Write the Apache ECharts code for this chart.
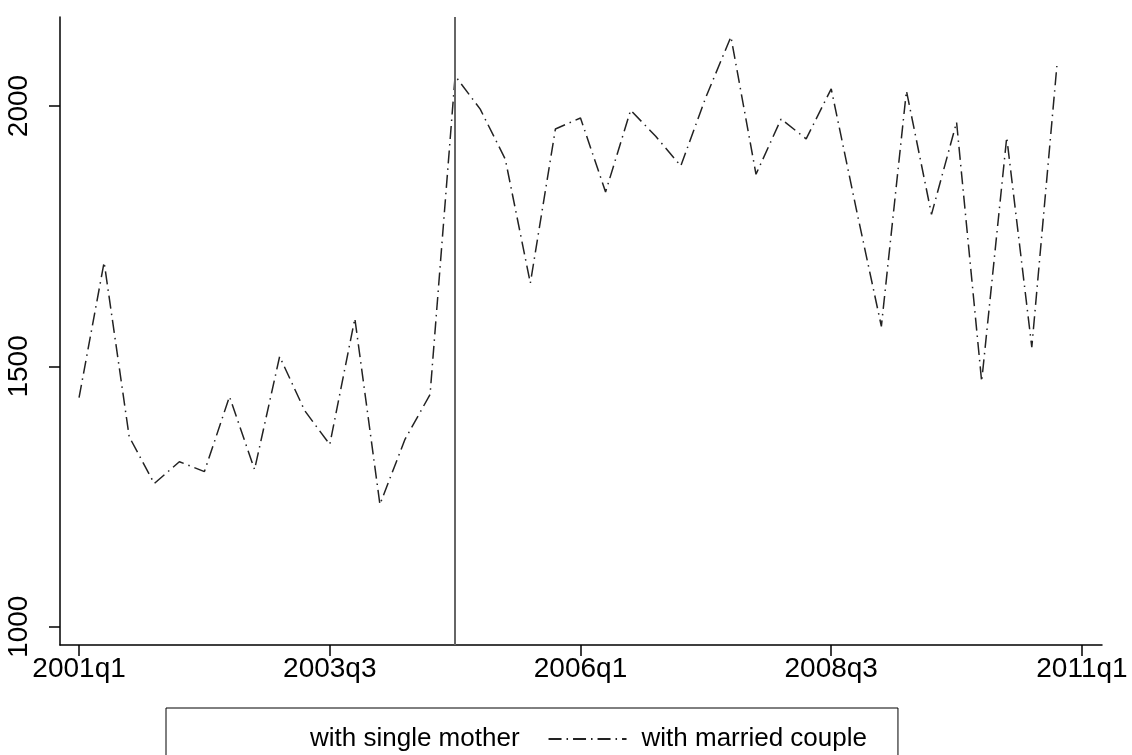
<!DOCTYPE html>
<html>
<head>
<meta charset="utf-8">
<script src="https://cdn.jsdelivr.net/npm/echarts@6/dist/echarts.min.js"></script>
<style>
html,body{margin:0;padding:0;background:#fff;}
#chart{width:1132px;height:755px;}
</style>
</head>
<body>
<div id="chart"></div>
<script>
// Quarter index 0 = 2001q1
const tickPositions = [0, 10, 20, 30, 40];
const tickLabels = ['2001q1', '2003q3', '2006q1', '2008q3', '2011q1'];
const yTicks = [1000, 1500, 2000];
const marriedCouple = [
  1440, 1700, 1365, 1275, 1317, 1298, 1442, 1302, 1519, 1415,
  1350, 1592, 1235, 1360, 1446, 2058, 1994, 1898, 1660, 1956,
  1977, 1835, 1992, 1942, 1885, 2017, 2133, 1869, 1975, 1937,
  2033, 1802, 1577, 2029, 1792, 1969, 1471, 1940, 1537, 2077
];
const singleMother = [];
const breakQuarter = 15; // 2004q4

const FONT = '"Liberation Sans", Arial, Helvetica, sans-serif';
const chart = echarts.init(document.getElementById('chart'));
chart.setOption({
  backgroundColor: '#ffffff',
  animation: false,
  grid: { left: 60, right: 30, top: 17, bottom: 110, containLabel: false },
  legend: {
    left: 166, top: 708,
    padding: [18, 31, 40, 51],
    borderColor: '#000', borderWidth: 1,
    itemWidth: 78, itemHeight: 4, itemGap: 28,
    textStyle: { fontFamily: FONT, fontSize: 26, color: '#000', padding: [0, 0, 0, 10] },
    data: [
      { name: 'with single mother', icon: 'none' },
      { name: 'with married couple', itemStyle: { opacity: 0 } }
    ]
  },
  xAxis: {
    type: 'value', min: -0.76, max: 40.8,
    splitLine: { show: false },
    axisLine: { show: true, onZero: false, lineStyle: { color: '#000', width: 1.5 } },
    axisTick: { show: true, length: 11, customValues: tickPositions, lineStyle: { color: '#000', width: 1.5 } },
    axisLabel: {
      customValues: tickPositions,
      margin: 10,
      fontFamily: FONT, fontSize: 28, color: '#000',
      formatter: v => tickLabels[tickPositions.indexOf(Math.round(v))] || ''
    }
  },
  yAxis: {
    type: 'value', min: 965, max: 2171,
    splitLine: { show: false },
    axisLine: { show: true, onZero: false, lineStyle: { color: '#000', width: 1.5 } },
    axisTick: { show: true, length: 11, customValues: yTicks, lineStyle: { color: '#000', width: 1.5 } },
    axisLabel: {
      customValues: yTicks,
      rotate: 90, margin: 27,
      fontFamily: FONT, fontSize: 28, color: '#000',
      formatter: v => String(v)
    }
  },
  series: [
    {
      name: 'with single mother', type: 'line',
      data: singleMother.map((v, i) => [i, v]),
      showSymbol: false, symbol: 'none',
      lineStyle: { color: 'rgba(0,0,0,0)', width: 0 }
    },
    {
      name: 'with married couple', type: 'line',
      data: marriedCouple.map((v, i) => [i, v]),
      showSymbol: false, symbol: 'none',
      itemStyle: { color: '#222' },
      lineStyle: { color: '#222', width: 1.5, type: [13, 5, 1.5, 5] },
      markLine: {
        silent: true, symbol: 'none',
        label: { show: false },
        lineStyle: { color: '#666', width: 2, type: 'solid' },
        data: [{ xAxis: breakQuarter }]
      }
    }
  ]
});
</script>
</body>
</html>
